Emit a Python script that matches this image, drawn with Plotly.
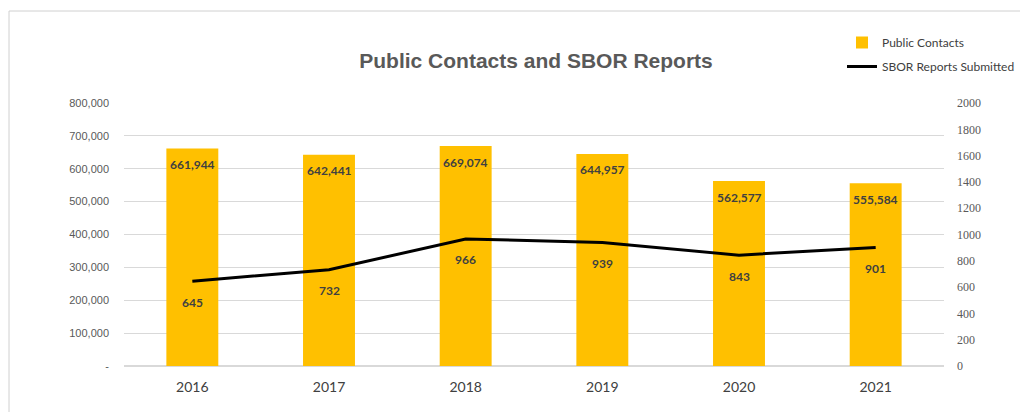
import plotly.graph_objects as go

years = ["2016", "2017", "2018", "2019", "2020", "2021"]
public_contacts = [661944, 642441, 669074, 644957, 562577, 555584]
sbor_reports = [645, 732, 966, 939, 843, 901]
left_ticks = [0, 100000, 200000, 300000, 400000, 500000, 600000, 700000, 800000]
left_tick_text = ["-", "100,000", "200,000", "300,000", "400,000", "500,000", "600,000", "700,000", "800,000"]
right_ticks = [0, 200, 400, 600, 800, 1000, 1200, 1400, 1600, 1800, 2000]

FONT = "Lato"
OFF = 8  # page body margin
W, H = 1028 - OFF, 412 - OFF
L, R, T, B = 124 - OFF, 84, 103 - OFF, 46
pw, ph = W - L - R, H - T - B

def px_x(x):  # screenshot px -> paper
    return (x - OFF - L) / pw

def px_y(y):
    return (H - B - (y - OFF)) / ph

fig = go.Figure()
fig.add_trace(go.Bar(
    x=years, y=public_contacts, name="Public Contacts", legendgroup="a",
    marker=dict(color="#FFC000", line=dict(width=0)),
    width=0.38,
))
fig.add_trace(go.Scatter(
    x=years, y=sbor_reports, name="SBOR Reports Submitted", yaxis="y2", legendgroup="b",
    mode="lines", line=dict(color="#000000", width=3),
))
for i, v in enumerate(public_contacts):
    fig.add_annotation(x=i, y=v, xref="x", yref="y", text=f"{v:,}", showarrow=False,
                       yshift=-16, font=dict(family=FONT, size=12, color="#404040", weight="bold"))
for i, v in enumerate(sbor_reports):
    fig.add_annotation(x=i, y=v, xref="x", yref="y2", text=str(v), showarrow=False,
                       yshift=-21, font=dict(family=FONT, size=12, color="#404040", weight="bold"))

fig.update_layout(
    width=W, height=H,
    margin=dict(l=L, r=R, t=T, b=B, autoexpand=False),
    paper_bgcolor="white", plot_bgcolor="white",
    title=dict(text="<b>Public Contacts and SBOR Reports</b>", x=px_x(536), xref="paper",
               y=1 - (61 - OFF) / H, yref="container", yanchor="middle", xanchor="center",
               font=dict(family="Liberation Sans", size=21, color="#595959")),
    showlegend=True,
    legend=dict(x=px_x(842), y=px_y(28), xanchor="left", yanchor="top",
                font=dict(family=FONT, size=12, color="#404040"),
                bgcolor="rgba(0,0,0,0)", itemwidth=30, tracegroupgap=5),
    xaxis=dict(type="category", range=[-0.5, len(years) - 0.5], showgrid=False,
               showline=False, ticks="",
               tickfont=dict(family=FONT, size=14, color="#404040"), ticklabelstandoff=11),
    yaxis=dict(range=[0, 800000], tickvals=left_ticks, ticktext=left_tick_text,
               showgrid=True, gridcolor="#d9d9d9", gridwidth=1, zeroline=True,
               zerolinecolor="#d9d9d9", ticks="", ticklabelstandoff=14,
               tickfont=dict(family="Liberation Sans", size=11, color="#595959")),
    yaxis2=dict(range=[0, 2000], tickvals=right_ticks, overlaying="y", side="right",
                showgrid=False, zeroline=False, ticks="", ticklabelstandoff=12,
                tickfont=dict(family="Liberation Serif", size=12, color="#595959")),
    shapes=[dict(type="rect", xref="paper", yref="paper",
                 x0=px_x(9), x1=px_x(1026), y0=px_y(420), y1=px_y(11),
                 line=dict(color="#d0d0d0", width=1), fillcolor="rgba(0,0,0,0)", layer="below")],
)

fig.write_html("out.html")
